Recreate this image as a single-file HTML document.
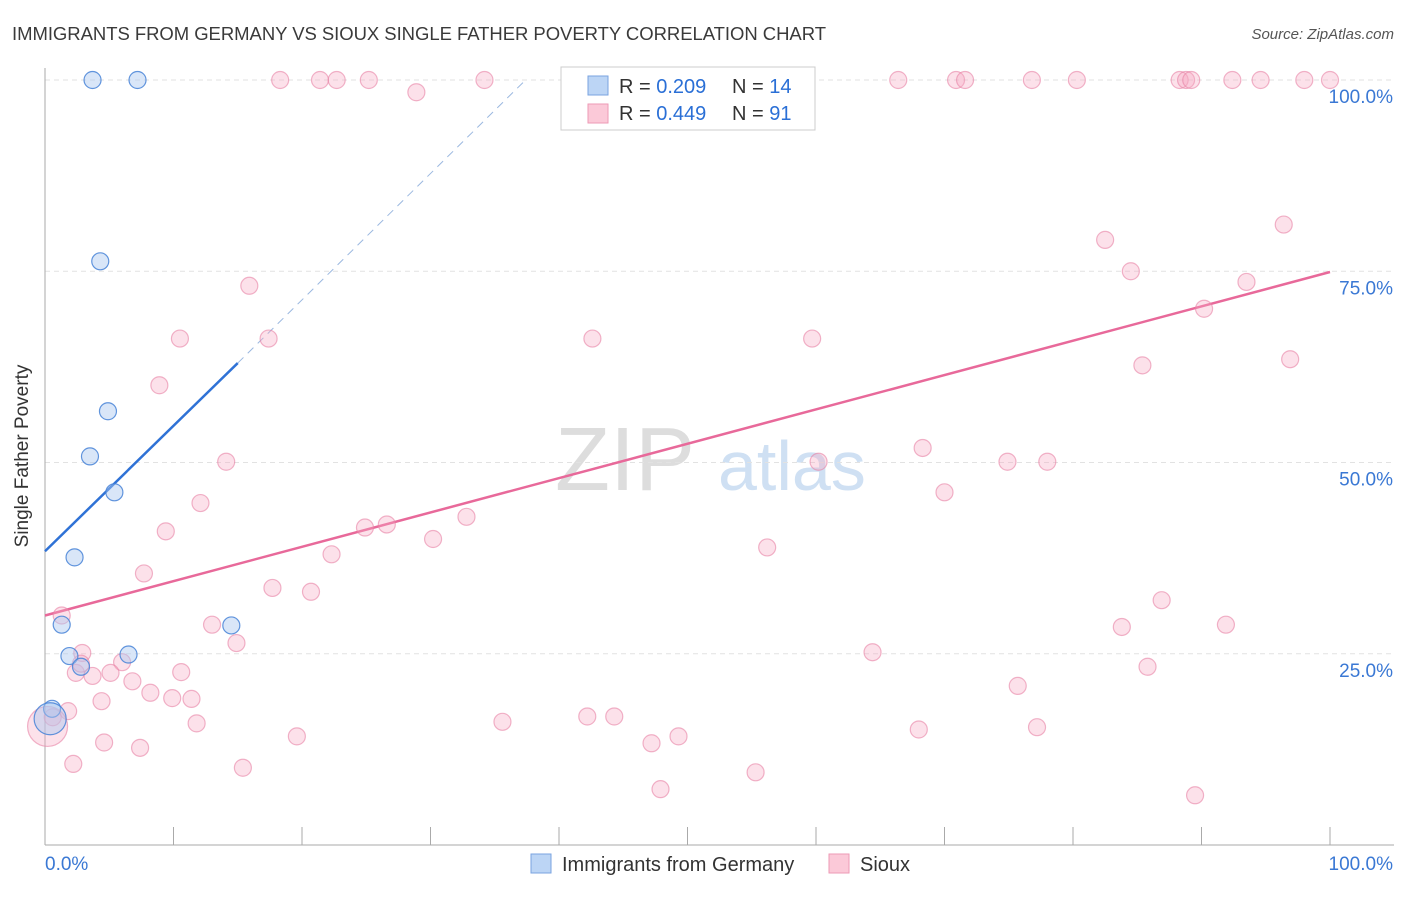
<!DOCTYPE html>
<html><head><meta charset="utf-8"><style>
body{margin:0;background:#fff;font-family:"Liberation Sans",sans-serif;}
svg text{font-family:"Liberation Sans",sans-serif;}
</style></head><body>
<svg id="c" width="1406" height="892" xmlns="http://www.w3.org/2000/svg">
<text x="12" y="40" font-size="18.5" fill="#3a3a3a" textLength="814">IMMIGRANTS FROM GERMANY VS SIOUX SINGLE FATHER POVERTY CORRELATION CHART</text>
<text x="1394" y="39" font-size="15" fill="#555" text-anchor="end" font-style="italic">Source: ZipAtlas.com</text>
<text x="28" y="456" font-size="19" fill="#333" text-anchor="middle" transform="rotate(-90 28 456)">Single Father Poverty</text>
<text x="555" y="490" font-size="90" fill="#ddd" font-family="Liberation Serif">ZIP</text>
<text x="718" y="490" font-size="70" fill="#cfe0f3">atlas</text>
<g id="grid"></g><g id="axes"></g><g id="trend"></g><g id="pts"></g>
<g>
<rect x="561" y="67" width="254" height="63" fill="#fff" stroke="#ccc"/>
<rect x="588" y="76" width="20" height="19" fill="#bcd5f5" stroke="#7aa3e0"/>
<rect x="588" y="104" width="20" height="19" fill="#fbc9d8" stroke="#ee9ab6"/>
<text x="619" y="93" font-size="20" fill="#333">R = <tspan fill="#2a6fd6">0.209</tspan><tspan x="732">N = </tspan><tspan fill="#2a6fd6">14</tspan></text>
<text x="619" y="120" font-size="20" fill="#333">R = <tspan fill="#2a6fd6">0.449</tspan><tspan x="732">N = </tspan><tspan fill="#2a6fd6">91</tspan></text>
</g>
<g>
<rect x="531" y="854" width="20" height="19" fill="#bcd5f5" stroke="#7aa3e0"/>
<text x="562" y="871" font-size="20" fill="#333">Immigrants from Germany</text>
<rect x="829" y="854" width="20" height="19" fill="#fbc9d8" stroke="#ee9ab6"/>
<text x="860" y="871" font-size="20" fill="#333">Sioux</text>
</g>
</svg>
<script>
const yTicks=[25,50,75,100];
const yTickLabels=["25.0%","50.0%","75.0%","100.0%"];
const xTickCount=10;
const blueX=[3.7,7.2,4.3,4.9,3.5,5.4,2.3,1.3,1.9,2.8,6.5,14.5,0.55,0.4];
const blueY=[100,100,76.3,56.7,50.8,46.1,37.6,28.8,24.7,23.3,24.9,28.7,17.8,16.5];
const pinkX=[18.3,21.4,22.7,25.2,34.2,28.9,46.6,52,57.1,66.4,70.9,71.6,76.8,80.3,88.3,88.8,89.2,92.4,94.6,98,100,
15.9,10.5,17.4,42.6,59.7,8.9,14.1,12.1,9.4,7.7,1.3,2.9,6,3.7,5.1,6.8,8.2,4.4,1.8,9.9,11.4,10.6,13,14.9,17.7,20.7,22.3,24.9,26.6,30.2,32.8,11.8,4.6,7.4,2.2,15.4,19.6,35.6,42.2,44.3,47.2,49.3,47.9,55.3,56.2,60.2,68.3,70,74.9,78,64.4,75.7,68,77.2,82.5,84.5,85.4,90.2,93.5,96.4,96.9,86.9,83.8,85.8,91.9,89.5,0.6,2.4,2.8,0.2];
const pinkY=[100,100,100,100,100,98.4,100,100,100,100,100,100,100,100,100,100,100,100,100,100,100,
73.1,66.2,66.2,66.2,66.2,60.1,50.1,44.7,41,35.5,30,25.1,23.9,22.1,22.5,21.4,19.9,18.8,17.5,19.2,19.1,22.6,28.8,26.4,33.6,33.1,38,41.5,41.9,40,42.9,15.9,13.4,12.7,10.6,10.1,14.2,16.1,16.8,16.8,13.3,14.2,7.3,9.5,38.9,50.1,51.9,46.1,50.1,50.1,25.2,20.8,15.1,15.4,79.1,75,62.7,70.1,73.6,81.1,63.5,32,28.5,23.3,28.8,6.5,16.7,22.5,23.7,15.5];
const blueTrend=[[0,38.4],[15,63]];
const blueDash=[[15,63],[37.4,100]];
const pinkTrend=[[0,30],[100,74.9]];
const L=45,R=1330,T=80,B=845;
const sx=v=>L+(R-L)*v/100, sy=v=>B-(B-T)*v/100;
const NS="http://www.w3.org/2000/svg";
function mk(p,t,a){const e=document.createElementNS(NS,t);for(const k in a)e.setAttribute(k,a[k]);document.getElementById(p).appendChild(e);return e;}
yTicks.forEach((v,i)=>{
 const g=mk('grid','line',{x1:L,x2:1394,y1:sy(v),y2:sy(v),stroke:'#e2e2e2','stroke-dasharray':'5,4'});
 
 
 const t=mk('axes','text',{x:1393,y:sy(v)+23,'font-size':19,fill:'#3a78d4','text-anchor':'end'});t.textContent=yTickLabels[i];
 
 
});
let a=mk('axes','line',{x1:L,x2:L,y1:68,y2:B,stroke:'#aaa'});


a=mk('axes','line',{x1:L,x2:1394,y1:B,y2:B,stroke:'#aaa'});


for(let i=1;i<=xTickCount;i++){const tk=mk('axes','line',{x1:sx(i*10),x2:sx(i*10),y1:827,y2:B,stroke:'#aaa'});
 
 }
let t=mk('axes','text',{x:45,y:870,'font-size':19,fill:'#3a78d4'});t.textContent='0.0%';


t=mk('axes','text',{x:1393,y:870,'font-size':19,fill:'#3a78d4','text-anchor':'end'});t.textContent='100.0%';


let ln=mk('trend','line',{x1:sx(pinkTrend[0][0]),y1:sy(pinkTrend[0][1]),x2:sx(pinkTrend[1][0]),y2:sy(pinkTrend[1][1]),stroke:'#e8699a','stroke-width':2.5});


ln=mk('trend','line',{x1:sx(blueTrend[0][0]),y1:sy(blueTrend[0][1]),x2:sx(blueTrend[1][0]),y2:sy(blueTrend[1][1]),stroke:'#2f72d6','stroke-width':2.5});


ln=mk('trend','line',{x1:sx(blueDash[0][0]),y1:sy(blueDash[0][1]),x2:sx(blueDash[1][0]),y2:sy(blueDash[1][1]),stroke:'#9bb8e0','stroke-width':1,'stroke-dasharray':'8,6'});


pinkX.forEach((x,i)=>{const r=i===pinkX.length-1?20:8.5;
 const c=mk('pts','circle',{cx:sx(x),cy:sy(pinkY[i]),r:r,fill:'rgba(247,170,196,0.35)',stroke:'rgba(232,130,165,0.6)','stroke-width':1.2});
 
 });
blueX.forEach((x,i)=>{const r=i===blueX.length-1?16:8.5;
 const c=mk('pts','circle',{cx:sx(x),cy:sy(blueY[i]),r:r,fill:'rgba(170,200,240,0.45)',stroke:'rgba(70,130,215,0.85)','stroke-width':1.2});
 
 });
</script>
</body></html>
